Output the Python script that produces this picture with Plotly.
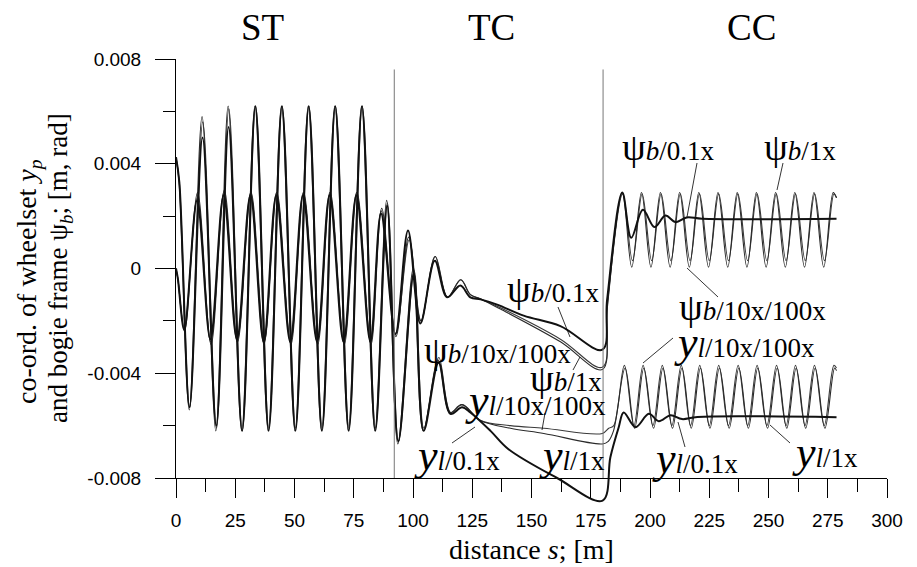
import plotly.graph_objects as go

# ---------------- data ----------------
# bogie frame yaw psi_b, variant 0.1x
s_psi_01 = [0, 0.8, 3.5, 8.9, 14.5, 20.1, 25.7, 31.4, 37.0, 42.3, 48.2, 53.6, 59.5, 64.8, 70.7,
            76.1, 82.0, 86.5, 92.6, 97.9, 103.1, 109.2, 114.4, 120.0, 124.2, 128.5, 135.5, 146.7,
            162.2, 179.9, 181.9, 188.3, 192.1, 197.0, 201.9, 206.5, 210.8, 215.5, 222.0, 278.7]
psi_01 = [0.0, -0.0004, -0.00235, 0.0026, -0.0027, 0.0028, -0.0027, 0.0028, -0.0028, 0.0028,
          -0.0028, 0.0028, -0.0028, 0.0028, -0.0028, 0.0028, -0.0028, 0.0021, -0.0025, 0.00145,
          -0.0021, 0.0003, -0.0011, -0.00065, -0.0011, -0.00118, -0.00138, -0.0018, -0.0022,
          -0.0031, -0.0012, 0.0029, 0.00117, 0.00224, 0.00158, 0.00202, 0.00177, 0.00195, 0.0019, 0.0019]

# psi_b, variant 1x
s_psi_1 = [0, 0.8, 3.6, 9.1, 14.8, 20.4, 26.0, 31.7, 37.3, 42.6, 48.5, 53.9, 59.8, 65.1, 71.0,
           76.4, 82.3, 86.8, 92.8, 98.2, 103.3, 109.4, 114.6, 120.2, 124.2, 128.5, 136.9, 162.2,
           179.9, 182.0, 188.3, 192.3, 196.4, 200.4, 204.4, 208.5, 212.5, 216.6, 220.6, 224.7,
           228.7, 232.8, 236.8, 240.9, 244.9, 249.0, 253.0, 257.1, 261.1, 265.2, 269.2, 273.3,
           277.3, 278.7]
psi_1 = [0.0, -0.0004, -0.0024, 0.0029, -0.0029, 0.0030, -0.0028, 0.0029, -0.0028, 0.0029,
         -0.0029, 0.0029, -0.0029, 0.0029, -0.0029, 0.0029, -0.0029, 0.0023, -0.0026, 0.0012,
         -0.0020, 0.00046, -0.0011, -0.00043, -0.0010, -0.00116, -0.00155, -0.0028, -0.00386,
         -0.0015, 0.0029, 0.00005, 0.0029, 0.00005, 0.0029, 0.00005, 0.0029, 0.00005, 0.0029,
         0.00005, 0.0029, 0.00005, 0.0029, 0.00005, 0.0029, 0.00005, 0.0029, 0.00005, 0.0029,
         0.00005, 0.0029, 0.00005, 0.0029, 0.0027]

# psi_b, variants 10x / 100x (coincide)
s_psi_10 = [0, 0.8, 3.5, 9.0, 14.6, 20.2, 25.8, 31.5, 37.1, 42.4, 48.3, 53.7, 59.6, 64.9, 70.8,
            76.2, 82.1, 86.6, 92.7, 98.4, 103.4, 109.3, 114.5, 120.1, 124.2, 128.5, 136.9, 162.2,
            179.9, 182.0, 188.5, 192.6, 196.7, 200.7, 204.7, 208.8, 212.8, 216.9, 220.9, 225.0,
            229.0, 233.1, 237.1, 241.2, 245.2, 249.3, 253.3, 257.4, 261.4, 265.5, 269.5, 273.6,
            277.6, 278.7]
psi_10 = [0.0, -0.0004, -0.0023, 0.0027, -0.0028, 0.0029, -0.0028, 0.0029, -0.0029, 0.0029,
          -0.0028, 0.0029, -0.0028, 0.0029, -0.0028, 0.0029, -0.0028, 0.0022, -0.0025, 0.0011,
          -0.0020, 0.00046, -0.0011, -0.00043, -0.0010, -0.00116, -0.0015, -0.0027, -0.00377,
          -0.0014, 0.00285, 0.0003, 0.00285, 0.0003, 0.00285, 0.0003, 0.00285, 0.0003, 0.00285,
          0.0003, 0.00285, 0.0003, 0.00285, 0.0003, 0.00285, 0.0003, 0.00285, 0.0003, 0.00285,
          0.0003, 0.00285, 0.0003, 0.00285, 0.0027]

# lateral wheelset displacement y_l, variant 0.1x
s_yl_01 = [0, 1.4, 5.7, 11.2, 17.0, 22.2, 27.9, 33.5, 39.1, 44.7, 50.4, 56.0, 61.6, 67.2, 72.9,
           78.5, 84.1, 89.1, 93.8, 100.3, 104.5, 110.8, 115.8, 120.7, 124.2, 132.7, 140.3, 160.8,
           180.0, 183.3, 186.8, 188.9, 193.9, 199.5, 203.7, 208.7, 213.5, 220.0, 278.7]
yl_01 = [0.00425, 0.0033, -0.0053, 0.0050, -0.0060, 0.0054, -0.0062, 0.0062, -0.0062, 0.0062,
         -0.0062, 0.0062, -0.0062, 0.0062, -0.0062, 0.0062, -0.0062, 0.0024, -0.0066, -0.0002,
         -0.0062, -0.0036, -0.00555, -0.0053, -0.0055, -0.0062, -0.0069, -0.0080, -0.00886,
         -0.0072, -0.00606, -0.0055, -0.00606, -0.00555, -0.00583, -0.0056, -0.00575, -0.00567, -0.00568]

# y_l, variant 1x
s_yl_1 = [0, 1.3, 5.6, 11.0, 16.8, 22.0, 27.7, 33.3, 38.9, 44.5, 50.2, 55.8, 61.4, 67.0, 72.7,
          78.3, 83.9, 88.9, 93.6, 100.1, 104.3, 110.6, 115.6, 120.5, 128.5, 141.1, 155.2, 179.9,
          182.4, 184.6, 189.5, 193.5, 197.4, 201.5, 205.5, 209.5, 213.5, 217.4, 221.3, 225.3,
          229.3, 233.4, 237.5, 241.5, 245.5, 249.6, 253.7, 257.7, 261.7, 265.7, 269.7, 273.8,
          277.9, 278.7]
yl_1 = [0.00425, 0.0033, -0.0054, 0.0058, -0.0062, 0.0062, -0.0062, 0.0062, -0.0062, 0.0062,
        -0.0062, 0.0062, -0.0062, 0.0062, -0.0062, 0.0062, -0.0062, 0.0026, -0.0067, 0.0000,
        -0.0062, -0.0035, -0.0055, -0.0052, -0.0058, -0.0061, -0.0063, -0.0067, -0.0066, -0.0062,
        -0.0038, -0.0061, -0.0038, -0.0061, -0.0038, -0.0061, -0.0038, -0.0061, -0.0038, -0.0061,
        -0.0038, -0.0061, -0.0038, -0.0061, -0.0038, -0.0061, -0.0038, -0.0061, -0.0038, -0.0061,
        -0.0038, -0.0061, -0.0038, -0.0039]

# y_l, variants 10x / 100x (coincide)
s_yl_10 = [0, 1.4, 5.8, 11.3, 17.1, 22.3, 28.0, 33.6, 39.2, 44.8, 50.5, 56.1, 61.7, 67.3, 73.0,
           78.6, 84.2, 89.2, 93.9, 100.5, 104.6, 110.9, 115.9, 120.8, 128.5, 141.1, 155.2, 179.9,
           182.6, 184.7, 189.2, 193.2, 197.1, 201.2, 205.2, 209.2, 213.2, 217.1, 221.0, 225.0,
           229.0, 233.1, 237.2, 241.2, 245.2, 249.3, 253.4, 257.4, 261.4, 265.4, 269.4, 273.5,
           277.6, 278.7]
yl_10 = [0.00425, 0.0033, -0.0053, 0.0056, -0.0061, 0.0061, -0.0062, 0.0062, -0.0061, 0.0062,
         -0.0061, 0.0062, -0.0061, 0.0062, -0.0061, 0.0062, -0.0061, 0.0025, -0.0066, -0.0001,
         -0.0061, -0.0034, -0.0055, -0.0052, -0.0058, -0.0060, -0.0061, -0.0063, -0.0061, -0.0060,
         -0.0037, -0.0060, -0.0037, -0.0060, -0.0037, -0.0060, -0.0037, -0.0060, -0.0037, -0.0060,
         -0.0037, -0.0060, -0.0037, -0.0060, -0.0037, -0.0060, -0.0037, -0.0060, -0.0037, -0.0060,
         -0.0037, -0.0060, -0.0037, -0.0038]

section_names = ["ST", "TC", "CC"]
section_bounds = [92.1, 180.2]
x_ticks = [0, 25, 50, 75, 100, 125, 150, 175, 200, 225, 250, 275, 300]
y_ticks = [-0.008, -0.004, 0, 0.004, 0.008]
y_tick_text = ["-0.008", "-0.004", "0", "0.004", "0.008"]

# ---------------- layout geometry ----------------
W, H = 917, 567
L, R, T, B = 176, 30, 59, 60
AX_BOTTOM = 478          # pixel row of the x axis
X_RANGE = [0, 300]
Y_RANGE = [-0.008, 0.008]
plot_h = H - T - B
plot_w = W - L - R
dom_bottom = (H - B - AX_BOTTOM) / plot_h
y2_low = Y_RANGE[0] - (H - B - AX_BOTTOM) * (Y_RANGE[1] - Y_RANGE[0]) / (AX_BOTTOM - T)


def px2x(px):
    return X_RANGE[0] + (px - L) / plot_w * (X_RANGE[1] - X_RANGE[0])


def px2y(py):
    return Y_RANGE[1] - (py - T) / (AX_BOTTOM - T) * (Y_RANGE[1] - Y_RANGE[0])


def pxp(px):
    return (px - L) / plot_w


def pyp(py):
    return (H - B - py) / plot_h


SERIF = "Liberation Serif"
SANS = "Liberation Sans"

fig = go.Figure()

# dummy trace so the main axes exist
fig.add_trace(go.Scatter(x=[None], y=[None], xaxis="x", yaxis="y", showlegend=False))


def add_line(xs, ys, color, width):
    fig.add_trace(go.Scatter(x=xs, y=ys, mode="lines", xaxis="x2", yaxis="y2",
                             line=dict(color=color, width=width, shape="spline", smoothing=1.0),
                             showlegend=False, hoverinfo="skip"))


add_line(s_psi_10, psi_10, "#3a3a3a", 1.1)
add_line(s_psi_1, psi_1, "#2a2a2a", 1.1)
add_line(s_yl_10, yl_10, "#3a3a3a", 1.1)
add_line(s_yl_1, yl_1, "#2a2a2a", 1.1)
add_line(s_psi_01, psi_01, "#111111", 2.0)
add_line(s_yl_01, yl_01, "#111111", 2.0)

# section boundaries
for xb in section_bounds:
    fig.add_shape(type="line", xref="x", yref="y", x0=xb, x1=xb, y0=-0.008, y1=0.0076,
                  line=dict(color="#777777", width=1))


def text_at(txt, px, py, size, angle=0, xanchor="center"):
    fig.add_annotation(x=pxp(px), y=pyp(py), xref="paper", yref="paper", text=txt,
                       showarrow=False, xanchor=xanchor, yanchor="middle", textangle=angle,
                       font=dict(family=SERIF, size=size, color="black"))


# section titles
for name, pxc in zip(section_names, [262, 491, 751]):
    text_at(name, pxc, 28, 37)

PS = 38   # psi glyph size
YS = 44   # big y glyph size
SUB = 27  # subscript text size


def psi_lbl(rest):
    return f"<span style='font-size:{PS}px'>ψ</span><i>b</i>{rest}"


def y_lbl(rest):
    return f"<i><span style='font-size:{YS}px'>y</span>l</i>{rest}"


labels = [
    (psi_lbl("/0.1x"), 505, 289),
    (psi_lbl("/10x/100x"), 422, 350),
    (psi_lbl("/1x"), 528, 378),
    (y_lbl("/10x/100x"), 463, 400),
    (y_lbl("/0.1x"), 412, 455),
    (y_lbl("/1x"), 537, 455),
    (psi_lbl("/0.1x"), 620, 147),
    (psi_lbl("/1x"), 762, 147),
    (psi_lbl("/10x/100x"), 677, 307),
    (y_lbl("/10x/100x"), 672, 342),
    (y_lbl("/0.1x"), 650, 458),
    (y_lbl("/1x"), 790, 452),
]
for txt, pxl, pyc in labels:
    text_at(txt, pxl, pyc, SUB, xanchor="left")

pointers = [
    (558, 307, 570, 337),
    (573, 370, 580, 357),
    (545, 413, 542, 430),
    (452, 443, 475, 427),
    (697, 163, 687, 217),
    (783, 163, 777, 190),
    (718, 297, 687, 268),
    (673, 338, 643, 363),
    (685, 447, 678, 422),
    (790, 443, 770, 425),
]
for x0, y0, x1, y1 in pointers:
    fig.add_shape(type="line", xref="x", yref="y", x0=px2x(x0), y0=px2y(y0),
                  x1=px2x(x1), y1=px2y(y1), line=dict(color="black", width=0.8))

# axis titles
text_at("distance <i>s</i>; [m]", 531, 549, 28)
text_at("co-ord. of wheelset <i>y</i><sub><i>p</i></sub>", 28, 282, 28, angle=-90)
text_at("and bogie frame ψ<sub><i>b</i></sub>; [m, rad]", 60, 268, 27, angle=-90)

fig.update_layout(
    width=W, height=H,
    margin=dict(l=L, r=R, t=T, b=B),
    plot_bgcolor="rgba(0,0,0,0)", paper_bgcolor="white",
    showlegend=False,
    xaxis=dict(range=X_RANGE, anchor="y", showline=True, linecolor="black", linewidth=1,
               ticks="outside", ticklen=19, tickwidth=1, tickcolor="black",
               tickvals=x_ticks, ticktext=[str(v) for v in x_ticks],
               minor=dict(dtick=12.5, tick0=0, ticklen=13, ticks="outside", tickcolor="black", tickwidth=1),
               showgrid=False, zeroline=False, ticklabelstandoff=6, layer="above traces",
               tickfont=dict(family=SANS, size=19, color="black")),
    yaxis=dict(range=Y_RANGE, domain=[dom_bottom, 1], anchor="x", showline=True,
               linecolor="black", linewidth=1, ticks="outside", ticklen=20, tickwidth=1,
               tickcolor="black", tickvals=y_ticks, ticktext=y_tick_text,
               minor=dict(tickvals=[-0.006, -0.002, 0.002, 0.006], ticklen=12, ticks="outside",
                          tickcolor="black", tickwidth=1),
               showgrid=False, zeroline=False, ticklabelstandoff=10, layer="above traces",
               tickfont=dict(family=SANS, size=19, color="black")),
    xaxis2=dict(range=X_RANGE, anchor="y2", visible=False, domain=[0, 1]),
    yaxis2=dict(range=[y2_low, Y_RANGE[1]], anchor="x2", visible=False, domain=[0, 1]),
)

fig.write_html("out.html")
